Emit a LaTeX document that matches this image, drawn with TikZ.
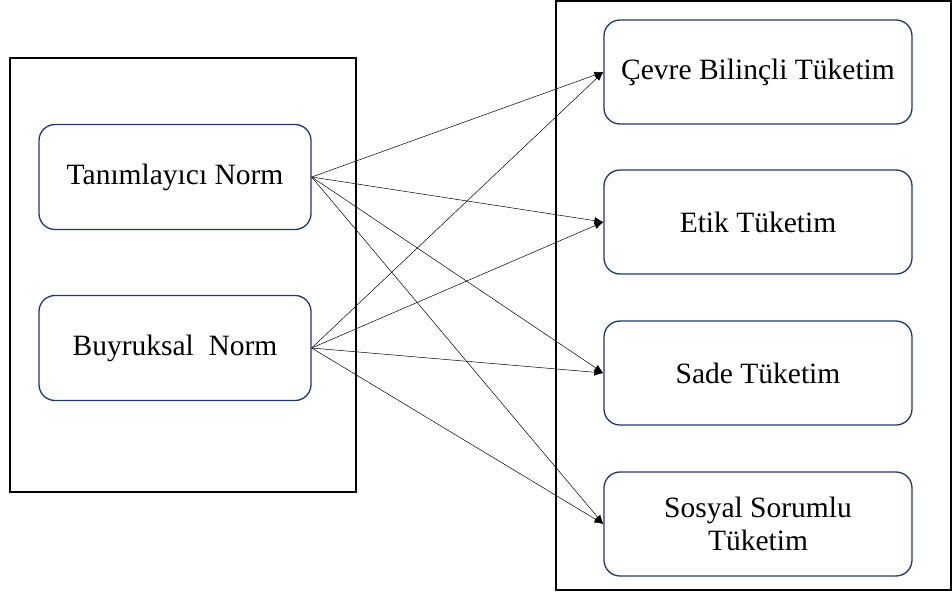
\documentclass[tikz,border=0pt]{standalone}
\usepackage{fontspec}
\setmainfont{Liberation Serif}
\usetikzlibrary{arrows.meta}
\definecolor{navy}{HTML}{1F3864}
\begin{document}
\begin{tikzpicture}[x=1pt,y=-1pt,
  frame/.style={draw=black,line width=1.3pt},
  itembox/.style={draw=navy,line width=1.3pt,rounded corners=16pt,
    minimum width=272pt,minimum height=105pt,inner sep=0pt,align=center,
    font=\fontsize{29.5}{33}\selectfont},
  outbox/.style={itembox,minimum width=308pt,minimum height=104pt},
  link/.style={draw=black,line width=0.5pt,-{Latex[length=9pt,width=7pt]}}]
  \useasboundingbox (0,0) rectangle (952,605);
  % outer frames
  \draw[frame] (10,58) rectangle (356,492);
  \draw[frame] (556,1) rectangle (951,590);
  % norm boxes
  \node[itembox] (tn) at (175,177) {Tanımlayıcı Norm};
  \node[itembox] (bn) at (175,348) {Buyruksal\ \ Norm};
  % consumption boxes
  \node[outbox] (c1) at (758,72) {Çevre Bilinçli Tüketim};
  \node[outbox] (c2) at (758,222) {Etik Tüketim};
  \node[outbox] (c3) at (758,373) {Sade Tüketim};
  \node[outbox] (c4) at (758,524) {Sosyal Sorumlu\\Tüketim};
  % connectors
  \foreach \s in {tn,bn}
    \foreach \t in {c1,c2,c3,c4}
      \draw[link] (\s.east) -- (\t.west);
\end{tikzpicture}
\end{document}
